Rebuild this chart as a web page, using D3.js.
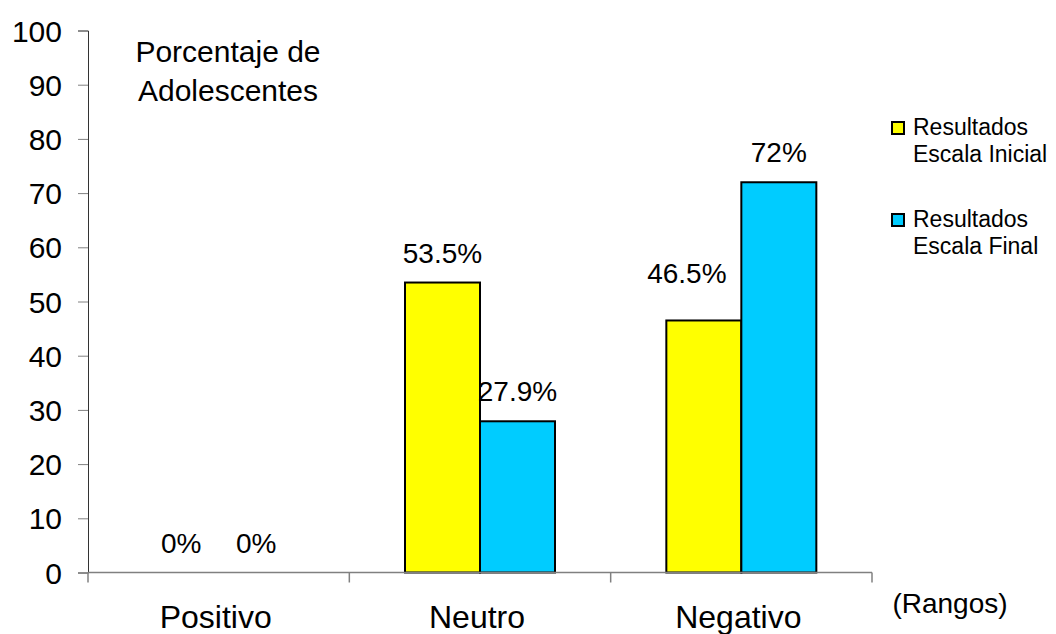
<!DOCTYPE html>
<html>
  <head>
    <meta charset="utf-8">
    <title>Porcentaje de Adolescentes</title>
    <script src="https://d3js.org/d3.v7.min.js"></script>
    <style>
      body { margin: 0; background: #fff; }
      text { font-family: "Liberation Sans", Arial, sans-serif; fill: #000; }
    </style>
  </head>
  <body>
    <div id="chart"></div>
    <script>
      // data
      var categories = ["Positivo", "Neutro", "Negativo"];
      var seriesNames = ["Resultados Escala Inicial", "Resultados Escala Final"];
      var inicial = [0, 53.5, 46.5];
      var final = [0, 27.9, 72];
      var valueLabels = [["0%", "53.5%", "46.5%"], ["0%", "27.9%", "72%"]];
      var yTicks = [0, 10, 20, 30, 40, 50, 60, 70, 80, 90, 100];
      var colors = ["#ffff00", "#00ccff"];

      var width = 1056, height = 634;
      var svg = d3.select("#chart")
        .append("svg")
          .attr("width", width)
          .attr("height", height);

      // scales
      var x = d3.scaleBand()
        .domain(categories)
        .range([88, 872])
        .padding(0);
      var x1 = d3.scaleBand()
        .domain(seriesNames)
        .range([-75, 75]);
      var y = d3.scaleLinear()
        .domain([0, 100])
        .range([572.5, 30.5]);

      // y axis
      var yAxis = svg.append("g")
        .attr("transform", "translate(88,0)")
        .call(d3.axisLeft(y).tickValues(yTicks).tickSize(10).tickPadding(16));
      yAxis.select(".domain").attr("stroke", "#333");
      yAxis.selectAll(".tick line").attr("stroke", "#808080");
      yAxis.selectAll(".tick text")
        .style("font-size", "30px")
        .attr("dy", "0.35em");

      // bars
      var rows = categories.map(function(c, i) {
        return [
          { cat: c, series: seriesNames[0], value: inicial[i], label: valueLabels[0][i], color: colors[0] },
          { cat: c, series: seriesNames[1], value: final[i], label: valueLabels[1][i], color: colors[1] }
        ];
      });
      var groups = svg.selectAll(".group")
        .data(rows)
        .enter().append("g")
          .attr("class", "group")
          .attr("transform", function(d) { return "translate(" + (x(d[0].cat) + x.bandwidth() / 2) + ",0)"; });
      groups.selectAll("rect")
        .data(function(d) { return d.filter(function(e) { return e.value > 0; }); })
        .enter().append("rect")
          .attr("x", function(d) { return x1(d.series); })
          .attr("width", x1.bandwidth())
          .attr("y", function(d) { return y(d.value); })
          .attr("height", function(d) { return y(0) - y(d.value); })
          .attr("fill", function(d) { return d.color; })
          .attr("stroke", "#000")
          .attr("stroke-width", 2);
      // the 46.5% label was dragged up-left in the original
      function nudge(d) { return d.label == "46.5%" ? -17 : 0; }
      groups.selectAll(".val")
        .data(function(d) { return d; })
        .enter().append("text")
          .attr("class", "val")
          .attr("x", function(d) { return x1(d.series) + x1.bandwidth() / 2 + nudge(d); })
          .attr("y", function(d) { return y(d.value) - 20 + nudge(d); })
          .attr("text-anchor", "middle")
          .style("font-size", "28px")
          .text(function(d) { return d.label; });

      // x axis
      var xAxis = svg.append("g")
        .attr("transform", "translate(0," + y(0) + ")");
      xAxis.append("line")
        .attr("x1", 88).attr("x2", 872)
        .attr("stroke", "#808080").attr("stroke-width", 1.5);
      xAxis.selectAll(".xtick")
        .data(categories.concat(["end"]))
        .enter().append("line")
          .attr("class", "xtick")
          .attr("x1", function(d, i) { return 88 + i * x.bandwidth(); })
          .attr("x2", function(d, i) { return 88 + i * x.bandwidth(); })
          .attr("y1", 0).attr("y2", 10)
          .attr("stroke", "#808080").attr("stroke-width", 1.5);
      xAxis.selectAll(".cat")
        .data(categories)
        .enter().append("text")
          .attr("class", "cat")
          .attr("x", function(d) { return x(d) + x.bandwidth() / 2 - 3; })
          .attr("y", 55)
          .attr("text-anchor", "middle")
          .style("font-size", "32px")
          .text(function(d) { return d; });

      svg.append("text")
        .attr("x", 950).attr("y", 613)
        .attr("text-anchor", "middle")
        .style("font-size", "28px")
        .text("(Rangos)");

      // axis title
      var title = svg.append("text")
        .attr("text-anchor", "middle")
        .style("font-size", "30px");
      title.append("tspan").attr("x", 228).attr("y", 62).text("Porcentaje de");
      title.append("tspan").attr("x", 228).attr("y", 101).text("Adolescentes");

      // legend
      var legend = svg.selectAll(".legend")
        .data(seriesNames)
        .enter().append("g")
          .attr("class", "legend")
          .attr("transform", function(d, i) { return "translate(892," + (135 + i * 92) + ")"; });
      legend.append("rect")
        .attr("y", -13)
        .attr("width", 12).attr("height", 12)
        .attr("fill", function(d, i) { return colors[i]; })
        .attr("stroke", "#000").attr("stroke-width", 2);
      legend.append("text")
        .style("font-size", "23px")
        .selectAll("tspan")
        .data(function(d) { var w = d.split(" "); return [w[0], w.slice(1).join(" ")]; })
        .enter().append("tspan")
          .attr("x", 21)
          .attr("y", function(d, i) { return i * 27; })
          .text(function(d) { return d; });
    </script>
  </body>
</html>
